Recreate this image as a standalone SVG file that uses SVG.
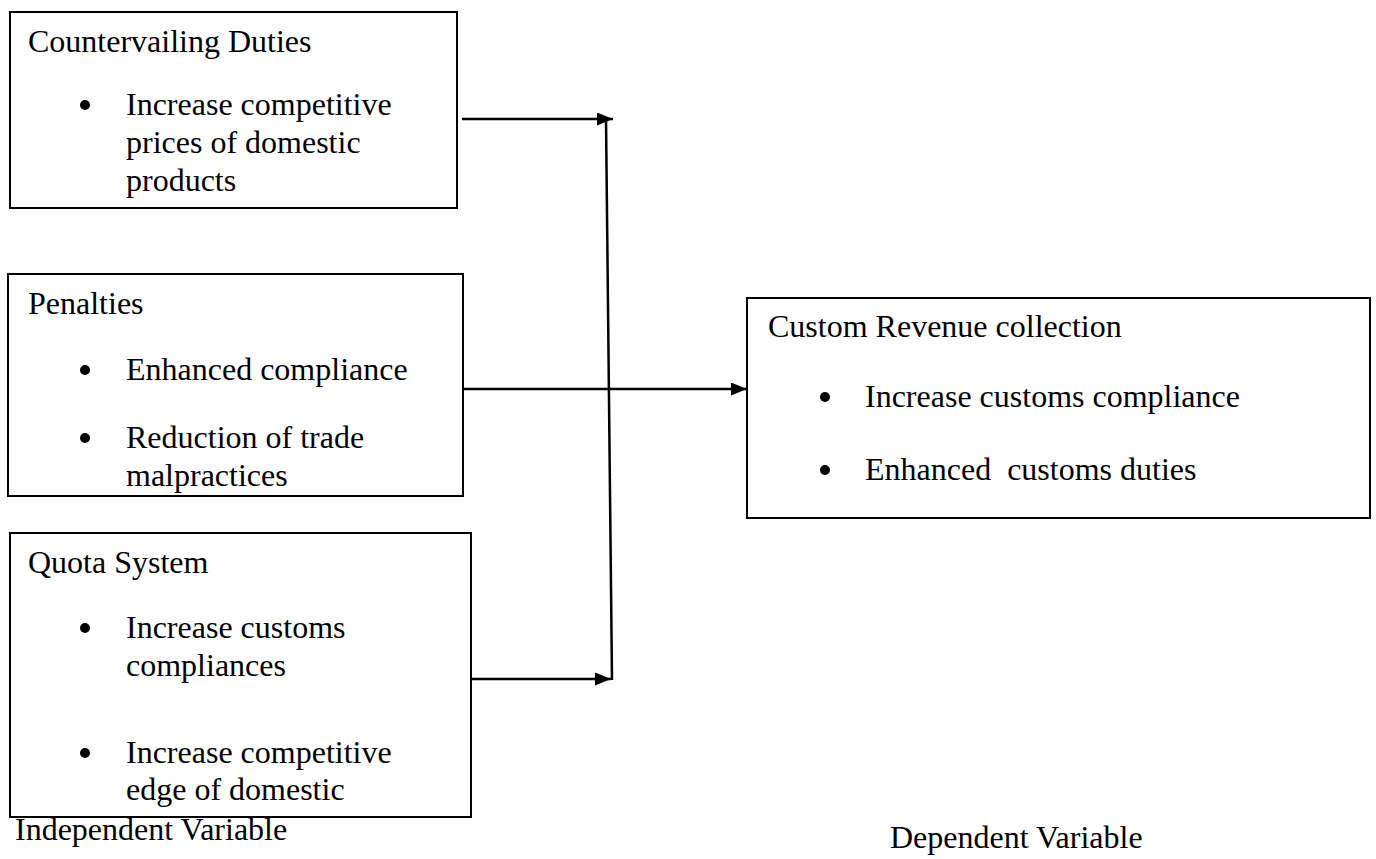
<svg xmlns="http://www.w3.org/2000/svg" width="1376" height="859" viewBox="0 0 1376 859">
<defs>
<style>
.box{fill:#fff;stroke:#000;stroke-width:2}
.t{font-family:"Liberation Serif","Times New Roman",serif;font-size:32px;fill:#000;white-space:pre}
.c{stroke:#000;stroke-width:2.5;fill:none}
.b{fill:#000}
</style>
<marker id="ah" viewBox="0 0 10 10" refX="10" refY="5" markerWidth="16" markerHeight="13" markerUnits="userSpaceOnUse" orient="auto" preserveAspectRatio="none">
<path d="M0,0 L10,5 L0,10 z" fill="#000"/>
</marker>
</defs>
<rect width="1376" height="859" fill="#fff"/>
<g id="connectors">
<line class="c" x1="462" y1="119" x2="613" y2="119" marker-end="url(#ah)"/>
<line class="c" x1="606" y1="119" x2="612" y2="680"/>
<line class="c" x1="463" y1="389" x2="747" y2="389" marker-end="url(#ah)"/>
<line class="c" x1="470" y1="679" x2="611" y2="679" marker-end="url(#ah)"/>
</g>
<g id="countervailing">
<rect class="box" x="10" y="12" width="447" height="196"/>
<text class="t" x="28" y="52">Countervailing Duties</text>
<circle class="b" cx="85" cy="105" r="5"/>
<text class="t" x="126" y="115">Increase competitive</text>
<text class="t" x="126" y="153">prices of domestic</text>
<text class="t" x="126" y="191">products</text>
</g>
<g id="penalties">
<rect class="box" x="8" y="274" width="455" height="222"/>
<text class="t" x="28" y="314">Penalties</text>
<circle class="b" cx="85" cy="370" r="5"/>
<text class="t" x="126" y="380">Enhanced compliance</text>
<circle class="b" cx="85" cy="438" r="5"/>
<text class="t" x="126" y="448">Reduction of trade</text>
<text class="t" x="126" y="486">malpractices</text>
</g>
<g id="quota">
<rect class="box" x="10" y="533" width="461" height="284"/>
<text class="t" x="28" y="573">Quota System</text>
<circle class="b" cx="85" cy="628" r="5"/>
<text class="t" x="126" y="638">Increase customs</text>
<text class="t" x="126" y="676">compliances</text>
<circle class="b" cx="85" cy="753" r="5"/>
<text class="t" x="126" y="763">Increase competitive</text>
<text class="t" x="126" y="800">edge of domestic</text>
</g>
<g id="revenue">
<rect class="box" x="747" y="298" width="623" height="220"/>
<text class="t" x="768" y="337">Custom Revenue collection</text>
<circle class="b" cx="825" cy="397" r="5"/>
<text class="t" x="865" y="407">Increase customs compliance</text>
<circle class="b" cx="825" cy="470" r="5"/>
<text class="t" x="865" y="480" xml:space="preserve">Enhanced  customs duties</text>
</g>
<g id="labels">
<text class="t" x="15" y="840">Independent Variable</text>
<text class="t" x="890" y="848">Dependent Variable</text>
</g>
</svg>
